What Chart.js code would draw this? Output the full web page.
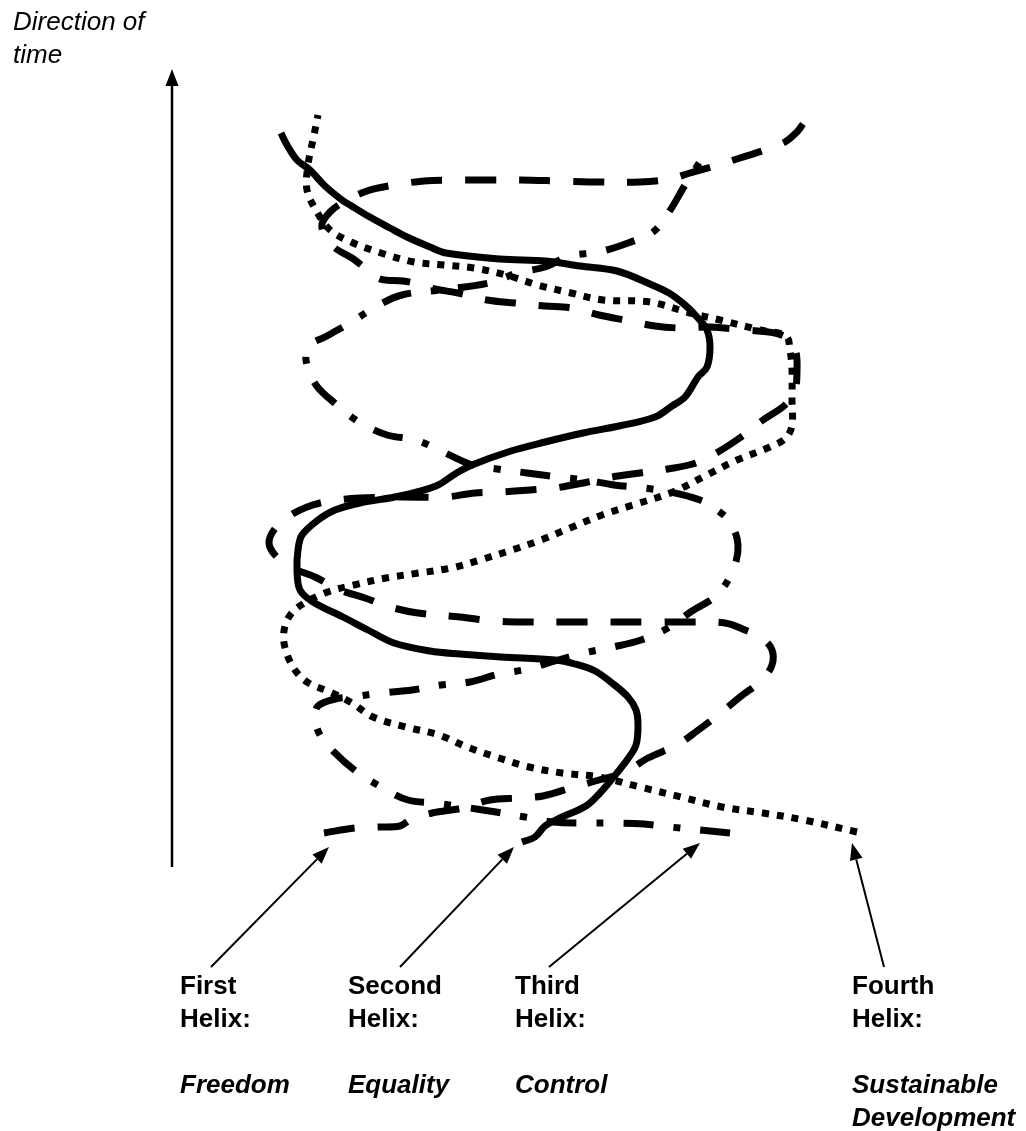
<!DOCTYPE html>
<html>
<head>
<meta charset="utf-8">
<script src="https://cdn.jsdelivr.net/npm/chart.js@4.4.1/dist/chart.umd.min.js"></script>
<style>
  body { margin: 0; background: #fff; }
  #wrap { width: 1026px; height: 1131px; }
</style>
</head>
<body>
<div id="wrap"><canvas id="helix" width="1026" height="1131"></canvas></div>
<script>
// helix names and what each stands for
var helixNames = ['First', 'Second', 'Third', 'Fourth'];
var helixMeaning = [['Freedom'], ['Equality'], ['Control'], ['Sustainable', 'Development']];
var axisLabel = ['Direction of', 'time'];

// traced curves, [x, y] (y grows downwards), start at the bottom
var firstHelix = [[324,833],[355,828],[377,827],[400,826],[410,820],[432,813],[463,808],[490,800],[519,798],[543,796],[574,787],[599,780],[625,772],[648,758],[677,745],[697,731],[722,712],[740,697],[762,680],[772,665],[772,650],[762,638],[745,630],[725,623],[690,622],[650,622],[610,622],[570,622],[530,622],[495,621],[460,617],[418,613],[390,607],[365,598],[340,590],[315,577],[290,567],[275,555],[269,543],[274,530],[288,517],[307,507],[330,501],[360,498],[400,497],[445,497],[475,493],[500,492],[530,490],[555,488],[588,482],[612,477],[640,473],[668,469],[696,463],[718,452],[741,437],[763,420],[785,405],[795,390],[797,370],[796,352],[790,340],[775,333],[745,330],[710,327],[680,328],[655,326],[624,320],[599,315],[571,308],[545,306],[515,303],[487,300],[458,293],[435,289],[418,284],[403,281],[380,279],[365,268],[352,258],[335,248],[325,236],[322,224],[330,212],[342,203],[367,191],[394,185],[424,181],[450,180],[480,180],[520,180],[560,181],[600,182],[640,182],[670,179],[690,173],[715,166],[740,158],[765,150],[785,142],[797,132],[803,124]];

var secondHelix = [[522,842],[535,837],[545,826],[560,818],[586,806],[600,793],[612,779],[627,760],[636,745],[638,725],[636,710],[628,697],[612,683],[595,671],[575,664],[555,660],[501,657],[460,654],[430,651],[394,643],[368,630],[343,617],[313,602],[300,590],[297,570],[298,550],[302,535],[318,520],[335,510],[360,503],[400,496],[436,486],[455,474],[472,465],[511,451],[545,442],[583,433],[619,426],[655,417],[672,406],[685,397],[698,377],[707,367],[710,347],[707,330],[698,318],[685,305],[669,293],[650,284],[617,271],[580,266],[546,261],[500,259],[446,253],[430,247],[407,237],[390,228],[368,216],[350,205],[342,200],[325,186],[310,170],[297,160],[287,145],[281,133]];

var thirdHelix = [[730,833],[700,830],[670,827],[644,824],[613,823],[582,823],[553,822],[525,817],[496,812],[463,807],[435,803],[408,800],[383,788],[357,772],[334,752],[320,735],[315,718],[318,706],[335,699],[352,697],[381,693],[412,690],[441,685],[470,682],[499,674],[528,669],[555,661],[584,653],[613,647],[641,640],[668,628],[692,611],[717,595],[733,570],[738,545],[730,522],[714,508],[700,500],[670,492],[644,488],[614,485],[585,480],[558,477],[527,473],[497,469],[472,465],[441,451],[416,440],[387,435],[359,422],[337,405],[316,385],[306,360],[310,345],[325,337],[350,323],[377,306],[402,295],[440,290],[489,283],[517,273],[545,267],[569,256],[599,252],[628,243],[653,232],[669,212],[685,185],[701,160]];

var fourthHelix = [[857,832],[804,820],[763,813],[722,807],[681,797],[640,787],[599,777],[562,773],[529,767],[496,757],[467,747],[439,735],[406,727],[373,717],[352,703],[330,692],[307,682],[293,667],[284,643],[286,623],[297,608],[325,593],[354,585],[386,578],[419,573],[451,568],[480,560],[512,550],[541,540],[570,528],[602,515],[633,505],[673,492],[707,475],[737,460],[770,447],[786,438],[792,425],[792,400],[792,370],[790,350],[786,336],[760,330],[720,320],[690,313],[650,302],[603,300],[571,293],[538,285],[506,275],[474,268],[444,265],[414,262],[381,253],[351,242],[330,230],[317,212],[307,190],[308,165],[314,135],[318,115]];

function pts(arr) {
  return arr.map(function (p) { return { x: p[0], y: p[1] }; });
}

function helixSet(label, arr, dash) {
  return {
    label: label,
    data: pts(arr),
    showLine: true,
    borderColor: '#000',
    borderWidth: 7,
    borderDash: dash,
    borderCapStyle: 'butt',
    borderJoinStyle: 'round',
    tension: 0.35,
    fill: false,
    pointRadius: 0,
    pointHoverRadius: 0,
    pointHitRadius: 0
  };
}

// arrows and text, placed in the same units as the curves
var labelsPlugin = {
  id: 'helixLabels',
  afterDraw: function (chart) {
    var c = chart.ctx;
    var sx = chart.scales.x, sy = chart.scales.y;
    function X(v) { return sx.getPixelForValue(v); }
    function Y(v) { return sy.getPixelForValue(v); }

    function arrow(x1, y1, x2, y2, w) {
      var a = Math.atan2(Y(y2) - Y(y1), X(x2) - X(x1));
      var len = 17, half = 6.5;
      var bx = X(x2) - Math.cos(a) * len, by = Y(y2) - Math.sin(a) * len;
      c.save();
      c.strokeStyle = '#000';
      c.fillStyle = '#000';
      c.lineWidth = w;
      c.beginPath();
      c.moveTo(X(x1), Y(y1));
      c.lineTo(bx, by);
      c.stroke();
      c.beginPath();
      c.moveTo(X(x2), Y(y2));
      c.lineTo(bx - Math.sin(a) * half, by + Math.cos(a) * half);
      c.lineTo(bx + Math.sin(a) * half, by - Math.cos(a) * half);
      c.closePath();
      c.fill();
      c.restore();
    }

    // time arrow
    arrow(172, 867, 172, 69, 2.5);
    // pointers from the labels to the curve ends
    arrow(211, 967, 329, 847, 2);
    arrow(400, 967, 514, 847, 2);
    arrow(549, 967, 700, 843, 2);
    arrow(884, 967, 852, 843, 2);

    c.save();
    c.fillStyle = '#000';
    c.textBaseline = 'alphabetic';
    c.font = 'italic 26px "Liberation Sans", Arial, sans-serif';
    c.fillText(axisLabel[0], X(13), Y(30));
    c.fillText(axisLabel[1], X(13), Y(63));

    var lx = [180, 348, 515, 852];
    for (var i = 0; i < helixNames.length; i++) {
      c.font = 'bold 26px "Liberation Sans", Arial, sans-serif';
      c.fillText(helixNames[i], X(lx[i]), Y(994));
      c.fillText('Helix:', X(lx[i]), Y(1027));
      c.font = 'italic bold 26px "Liberation Sans", Arial, sans-serif';
      for (var j = 0; j < helixMeaning[i].length; j++) {
        c.fillText(helixMeaning[i][j], X(lx[i]), Y(1093 + j * 33));
      }
    }
    c.restore();
  }
};

var ctx = document.getElementById('helix').getContext('2d');
var helixChart = new Chart(ctx, {
  type: 'scatter',
  data: {
    datasets: [
      helixSet('First Helix: Freedom', firstHelix, [31, 23]),
      helixSet('Second Helix: Equality', secondHelix, []),
      helixSet('Third Helix: Control', thirdHelix, [30, 20, 7, 20]),
      helixSet('Fourth Helix: Sustainable Development', fourthHelix, [7, 8])
    ]
  },
  options: {
    responsive: false,
    animation: false,
    layout: { padding: 0 },
    plugins: {
      legend: { display: false },
      tooltip: { enabled: false }
    },
    scales: {
      x: { type: 'linear', min: 0, max: 1026, display: false },
      y: { type: 'linear', min: 0, max: 1131, reverse: true, display: false }
    }
  },
  plugins: [labelsPlugin]
});
</script>
</body>
</html>
